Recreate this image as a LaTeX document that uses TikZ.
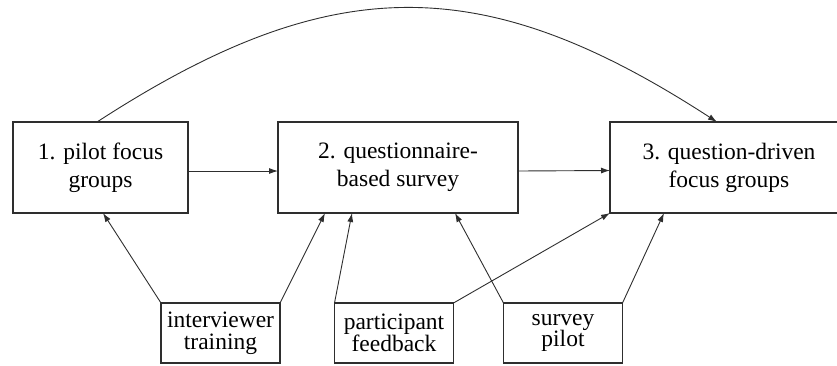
\documentclass[tikz,border=0pt]{standalone}
\usepackage{fontspec}
\setmainfont{Liberation Serif}
\usetikzlibrary{arrows.meta}
\definecolor{ink}{HTML}{2E2E2E}
\begin{document}
\begin{tikzpicture}[x=1pt,y=-1pt,
  bigbox/.style={draw=ink, line width=1.6pt, outer sep=0pt, inner sep=0pt,
    minimum height=91pt, align=center, text=black,
    font=\fontsize{23.5}{28}\selectfont},
  smallbox/.style={draw=ink, line width=1.1pt, outer sep=0pt, inner sep=0pt,
    minimum width=119pt, minimum height=60pt, align=center, text=black,
    font=\fontsize{23.5}{21.5}\selectfont},
  conn/.style={draw=ink, line width=0.9pt, -{Latex[length=9pt,width=6pt]}}
]
\useasboundingbox (0,0) rectangle (837,365);
\node[bigbox, minimum width=175pt] (b1) at (100.5,167.5) {1. pilot focus\\groups};
\node[bigbox, minimum width=240pt] (b2) at (398,167.5) {2. questionnaire-\\based survey};
\node[bigbox, minimum width=238pt] (b3) at (729,167.5) {3. question-driven\\focus groups};
\node[smallbox] (int) at (220.5,333) {interviewer\\training};
\node[smallbox] (par) at (394,333) {participant\\feedback};
\node[smallbox] (sur) at (563,333) {survey\\pilot};

\draw[conn] ([xshift=84pt]b1.north west) .. controls (331,-30) and (483,-30) .. ([xshift=107pt]b3.north west);
\draw[conn] ([yshift=-3.5pt]b1.east) -- ([yshift=-3.5pt]b2.west);
\draw[conn] ([yshift=-3.5pt]b2.east) -- ([yshift=-3pt]b3.west);
\draw[conn] (int.north west) -- ([xshift=90pt]b1.south west);
\draw[conn] (int.north east) -- ([xshift=47pt]b2.south west);
\draw[conn] (par.north west) -- ([xshift=74pt]b2.south west);
\draw[conn] (sur.north west) -- ([xshift=177pt]b2.south west);
\draw[conn] (par.north east) -- (b3.south west);
\draw[conn] (sur.north east) -- ([xshift=54pt]b3.south west);
\end{tikzpicture}
\end{document}
